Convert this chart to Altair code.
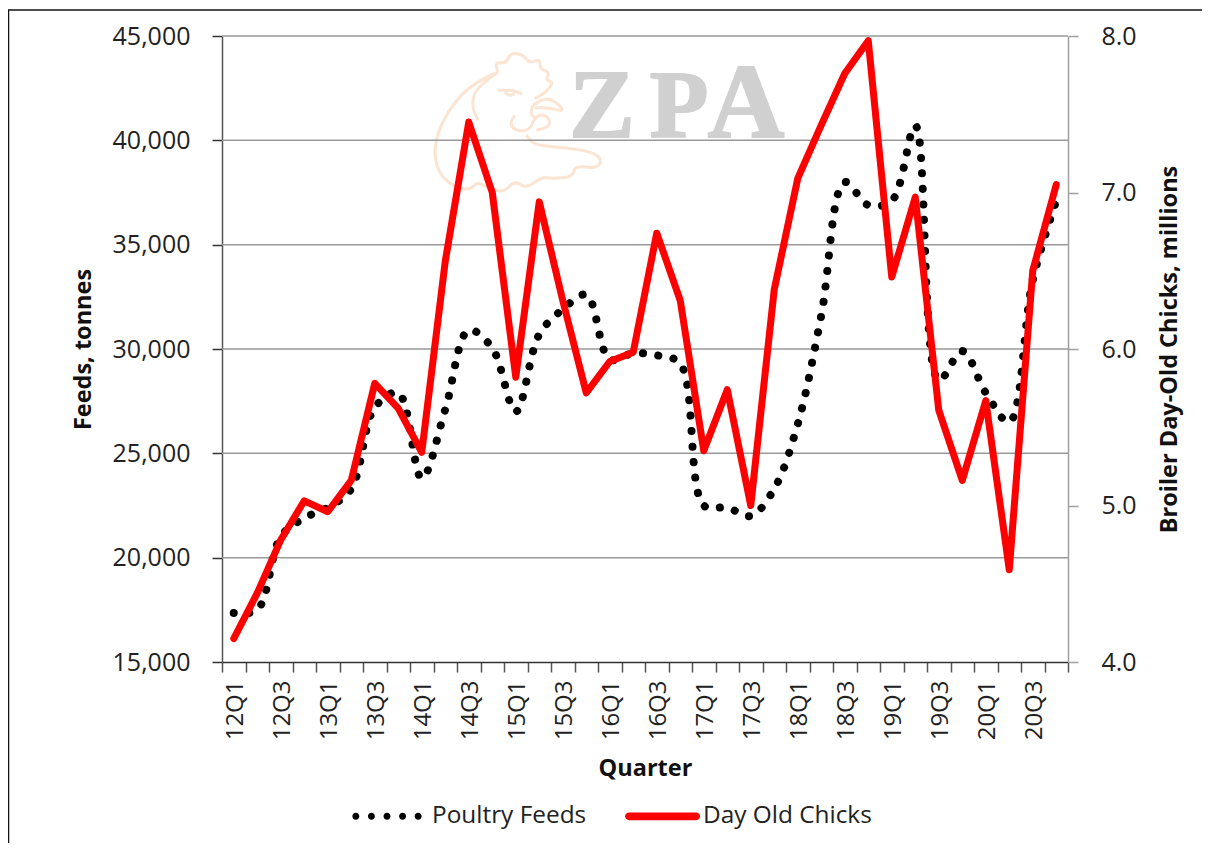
import altair as alt
import pandas as pd

years = range(12, 21)
quarters = [f"{y}Q{q}" for y in years for q in (1, 2, 3, 4)]
feeds = [17350, 17500, 21000, 21900, 22400, 23300, 27200, 27900, 23800, 27100, 30900, 30050,
         27000, 30700, 31900, 32600, 29500, 29800, 29700, 29300, 22500, 22400, 22000, 23300,
         26400, 31600, 38000, 36900, 37100, 40700, 28500, 29900, 27900, 26500, 33300, 37100]
chicks = [4.15, 4.44, 4.78, 5.03, 4.96, 5.16, 5.78, 5.62, 5.34, 6.56, 7.45, 7.0,
          5.82, 6.94, 6.31, 5.72, 5.92, 5.98, 6.74, 6.31, 5.35, 5.74, 5.0, 6.38,
          7.09, 7.43, 7.76, 7.97, 6.46, 6.97, 5.61, 5.16, 5.67, 4.59, 6.5, 7.05]
left_ticks = [15000, 20000, 25000, 30000, 35000, 40000, 45000]
right_ticks = [4, 5, 6, 7, 8]
series_names = ["Poultry Feeds", "Day Old Chicks"]
FONT = "Open Sans"

df_f = pd.DataFrame({"q": quarters, "v": feeds, "series": series_names[0]})
df_c = pd.DataFrame({"q": quarters, "v": chicks, "series": series_names[1]})

x = alt.X("q:N", sort=quarters, title="Quarter",
          scale=alt.Scale(type="band", domain=quarters, paddingInner=0, paddingOuter=0),
          bandPosition=0.5,
          axis=alt.Axis(labelAngle=270, labelAlign="right", labelBaseline="middle",
                        labelFontSize=24, labelFont=FONT, labelColor="#222222", labelPadding=8,
                        labelOffset=2, labelOverlap=False, labelBound=False,
                        labelExpr="test(/Q[13]$/, datum.label) ? datum.label : ''",
                        tickBand="extent", tickSize=10, tickColor="#555555", tickWidth=1.5,
                        domainColor="#333333", domainWidth=1.5,
                        titleFont=FONT, titleFontSize=23.5, titleFontWeight="bold",
                        titleColor="#111111", titlePadding=17))


def circle(cx, r):
    return f"M{cx - r:.3f},0a{r},{r} 0 1,0 {2 * r},0a{r},{r} 0 1,0 {-2 * r},0Z"


# legend keys: five round dots, and a round-ended bar, in the symbol's [-1, 1] frame
dots_key = "".join(circle(c, 0.1) for c in (-0.89, -0.445, 0, 0.445, 0.89))
bar_key = "M-0.83,-0.11L1.09,-0.11A0.11,0.11 0 0,1 1.09,0.11L-0.83,0.11A0.11,0.11 0 0,1 -0.83,-0.11Z"

legend_layer = alt.Chart(df_f).transform_filter("false").mark_point(filled=True, size=4900, opacity=1).encode(
    color=alt.Color("series:N", scale=alt.Scale(domain=series_names, range=["#000000", "#ff0000"]), title=None,
                    legend=alt.Legend(orient="none", legendX=130, legendY=745, direction="horizontal",
                                      columns=2, symbolSize=4900, symbolStrokeWidth=0, symbolOpacity=1,
                                      labelFont=FONT, labelFontSize=24.4, labelColor="#222222",
                                      labelLimit=400, columnPadding=36, labelOffset=10)),
    shape=alt.Shape("series:N", scale=alt.Scale(domain=series_names, range=[dots_key, bar_key]), title=None),
)

black = alt.Chart(df_f).mark_line(strokeCap="round", interpolate="catmull-rom", color="#000000",
                                  strokeDash=[0.1, 15.4], strokeWidth=8).encode(
    x=x,
    y=alt.Y("v:Q", scale=alt.Scale(domain=[15000, 45000]), title="Feeds, tonnes",
            axis=alt.Axis(values=left_ticks, format=",.0f", grid=False, orient="left",
                          labelFont=FONT, labelFontSize=25, labelColor="#222222", labelPadding=22,
                          tickSize=10, tickColor="#333333", tickWidth=1.5,
                          domainColor="#555555", domainWidth=1.5,
                          titleFont=FONT, titleFontSize=23.5, titleFontWeight="bold",
                          titleColor="#111111", titlePadding=17)))
red = alt.Chart(df_c).mark_line(strokeCap="round", strokeJoin="round", color="#ff0000", strokeWidth=7).encode(
    x=x,
    y=alt.Y("v:Q", scale=alt.Scale(domain=[4, 8]), title="Broiler Day-Old Chicks, millions",
            axis=alt.Axis(values=right_ticks, format=".1f", grid=False, orient="right",
                          labelFont=FONT, labelFontSize=25, labelColor="#222222", labelPadding=23,
                          tickSize=10, tickColor="#a0a0a0", tickWidth=1.5,
                          domainColor="#a0a0a0", domainWidth=1.5,
                          titleFont=FONT, titleFontSize=23.5, titleFontWeight="bold", titleAngle=270,
                          titleColor="#111111", titlePadding=45)))

grid = alt.Chart(pd.DataFrame({"g": left_ticks[1:]})).mark_rule(color="#999999", strokeWidth=1.5).encode(
    y=alt.Y("g:Q", scale=alt.Scale(domain=[15000, 45000]), axis=None))


# Watermark: chicken outline traced in a local frame, centred and normalised to [-1, 1]
def smooth(pts):
    n = [((a - 295) / 255, (b - 278) / 255) for a, b in pts]
    d = f"M{n[0][0]:.3f},{n[0][1]:.3f}"
    for i in range(1, len(n) - 1):
        mx, my = (n[i][0] + n[i + 1][0]) / 2, (n[i][1] + n[i + 1][1]) / 2
        d += f"Q{n[i][0]:.3f},{n[i][1]:.3f} {mx:.3f},{my:.3f}"
    d += f"L{n[-1][0]:.3f},{n[-1][1]:.3f}"
    return d


outline = [
    [(235, 125), (165, 155), (100, 220), (55, 300), (42, 380), (65, 440), (110, 472), (150, 478),
     (175, 455), (200, 470), (250, 488), (285, 450), (320, 475), (365, 440), (395, 445), (460, 440),
     (465, 405), (530, 415), (548, 390), (520, 365), (440, 352), (345, 345), (320, 315)],
    [(235, 125), (222, 95), (260, 100), (272, 68), (310, 72), (330, 100), (360, 85), (362, 118),
     (390, 125), (378, 150), (402, 155), (380, 185), (345, 205)],
    [(235, 125), (170, 170), (155, 225), (175, 270)],
    [(340, 225), (375, 200), (410, 215), (435, 245), (390, 232), (345, 232)],
    [(285, 255), (268, 280), (290, 302), (330, 300), (345, 262), (372, 250), (392, 270), (385, 290), (350, 300)],
    [(235, 180), (275, 178), (308, 192)],
    [(255, 186), (270, 198), (285, 190)],
    [(340, 225), (330, 250), (345, 262)],
]
chicken_path = "".join(smooth(p) for p in outline)
chicken = alt.Chart(alt.Data(values=[{"a": 1}])).mark_point(
    shape=chicken_path, size=28900, stroke="#fbe4d2", strokeWidth=3, filled=False, opacity=1
).encode(x=alt.value(296), y=alt.value(87))

letters = ["Z", "P", "A"]
zpa = alt.layer(*[
    alt.Chart(pd.DataFrame({"t": [t]})).mark_text(
        font="Liberation Serif", fontWeight="bold", fontSize=s, color="#d0d0d0",
        stroke="#d0d0d0", strokeWidth=2, align="center", baseline="alphabetic").encode(
        x=alt.value(px), y=alt.value(101), text="t:N")
    for t, px, s in zip(letters, [380, 457, 524], [98, 96, 106])
])

frame_top = alt.Chart(alt.Data(values=[{"a": 1}])).mark_rule(color="#111111", strokeWidth=1.5).encode(
    x=alt.value(-214), x2=alt.value(990), y=alt.value(-26))
frame_left = alt.Chart(alt.Data(values=[{"a": 1}])).mark_rule(color="#111111", strokeWidth=1.5).encode(
    x=alt.value(-213.5), y=alt.value(-26), y2=alt.value(810))

chart = alt.layer(
    frame_top, frame_left, chicken, zpa,
    grid, black, red, legend_layer
).resolve_scale(y="independent").properties(
    width=846, height=626,
    autosize=alt.AutoSizeParams(type="none"),
    padding={"left": 214, "top": 28, "right": 134, "bottom": 181},
    background="white",
).configure_view(stroke=None)

chart.save("out.html", embed_options={"renderer": "svg", "actions": False})
